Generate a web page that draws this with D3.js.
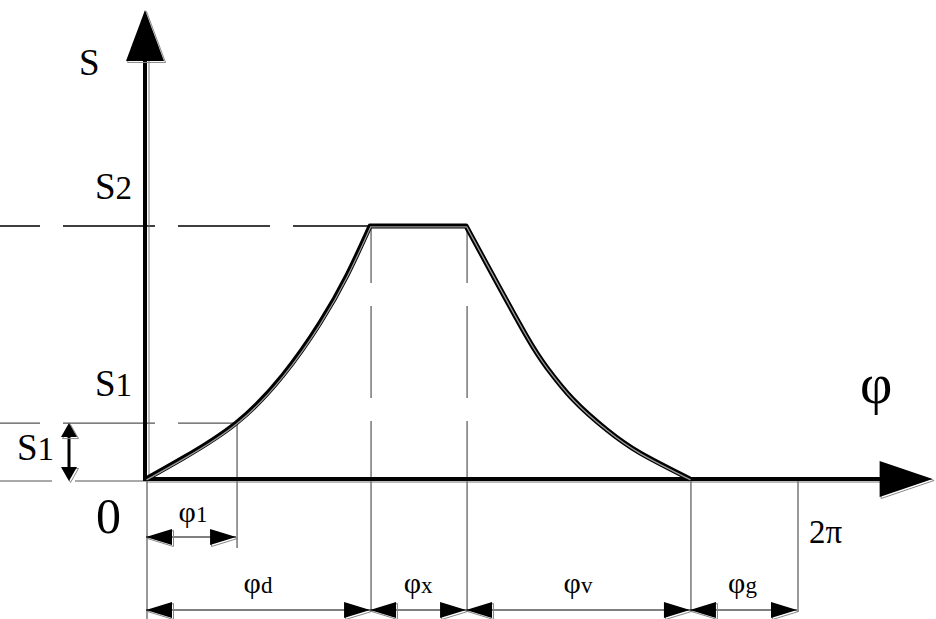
<!DOCTYPE html>
<html>
<head>
<meta charset="utf-8">
<script src="https://cdn.jsdelivr.net/npm/d3@7"></script>
<style>
  html, body { margin: 0; padding: 0; background: #fff; }
  svg { display: block; }
  text { font-family: 'Liberation Serif', 'DejaVu Serif', serif; fill: #000; }
</style>
</head>
<body>
<svg id="chart" width="936" height="619"></svg>
<script>
// ── Data (φ in degrees, S relative to S2) ─────────────
const ascentPhi = [0, 20.5, 49.8, 75.8, 96.2, 111.2, 123.9];
const ascentS = [0, 0.083, 0.221, 0.411, 0.617, 0.806, 1];
const descentPhi = [177, 190.2, 210.7, 221.7, 236.1, 254.9, 273.2, 300.8];
const descentS = [1, 0.826, 0.561, 0.44, 0.315, 0.194, 0.103, 0];
const phaseBounds = [0, 123.9, 177, 300.8, 360];
const phaseSubs = ['d', 'x', 'v', 'g'];
const levelS = [0.221, 1];
const levelLabels = ['1', '2'];
const phi1 = 49.8;
const axisEnd = { phi: 435, s: 1.854 };

// ── Scales ───────────────────────────────────────────
const svg = d3.select('#chart');
const x = d3.scaleLinear().domain([0, 360]).range([146, 797]);
const y = d3.scaleLinear().domain([0, 1]).range([479, 226]);

// arrowhead: tip at (tx,ty), pointing in direction (dx,dy)
function arrowHead(tx, ty, dx, dy, len, half) {
  const bx = tx - dx * len, by = ty - dy * len;
  const px = -dy * half, py = dx * half;
  return `M${tx},${ty}L${bx + px},${by + py}L${bx - px},${by - py}Z`;
}
function drawArrow(tx, ty, dx, dy, len, half) {
  // light shadow edge like the scanned drawing
  svg.append('path')
    .attr('d', arrowHead(tx + 1.5, ty + 1.5, dx, dy, len, half))
    .attr('fill', 'none').attr('stroke', '#888').attr('stroke-width', 1);
  svg.append('path')
    .attr('d', arrowHead(tx, ty, dx, dy, len, half))
    .attr('fill', '#000');
}

// ── Dashed level lines ───────────────────────────────
levelS.forEach(s => {
  svg.append('line')
    .attr('x1', 0).attr('x2', s === 1 ? x(ascentPhi[ascentPhi.length - 1]) : x(phi1))
    .attr('y1', y(s)).attr('y2', y(s))
    .attr('stroke', s === 1 ? '#000' : '#555').attr('stroke-width', 1.3)
    .attr('stroke-dasharray', '92,23').attr('stroke-dashoffset', 52);
});
svg.append('line')
  .attr('x1', 0).attr('x2', x(0)).attr('y1', y(0) + 2).attr('y2', y(0) + 2)
  .attr('stroke', '#555').attr('stroke-width', 1.2)
  .attr('stroke-dasharray', '52,23,92');

// ── Extension lines ──────────────────────────────────
const dimY = 610, dim1Y = 537;
// dashed verticals over the dwell
[phaseBounds[1], phaseBounds[2]].forEach(p => {
  svg.append('line')
    .attr('x1', x(p) + 1).attr('x2', x(p) + 1).attr('y1', y(1)).attr('y2', y(0))
    .attr('stroke', '#555').attr('stroke-width', 1.2)
    .attr('stroke-dasharray', '92,23').attr('stroke-dashoffset', 35);
});
phaseBounds.forEach((p, i) => {
  svg.append('line')
    .attr('x1', x(p) + 1).attr('x2', x(p) + 1)
    .attr('y1', y(0)).attr('y2', i === 0 ? 619 : dimY + 2)
    .attr('stroke', '#555').attr('stroke-width', 1.2);
});
svg.append('line')
  .attr('x1', x(phi1) + 1).attr('x2', x(phi1) + 1)
  .attr('y1', y(levelS[0])).attr('y2', 548)
  .attr('stroke', '#555').attr('stroke-width', 1.2);

// ── Dimension lines ──────────────────────────────────
svg.append('line')
  .attr('x1', x(0)).attr('x2', x(phi1)).attr('y1', dim1Y).attr('y2', dim1Y)
  .attr('stroke', '#000').attr('stroke-width', 1);
drawArrow(x(0), dim1Y, -1, 0, 26, 8);
drawArrow(x(phi1), dim1Y, 1, 0, 26, 8);

svg.append('line')
  .attr('x1', x(0)).attr('x2', x(360)).attr('y1', dimY).attr('y2', dimY)
  .attr('stroke', '#000').attr('stroke-width', 1);
phaseSubs.forEach((sub, i) => {
  const a = phaseBounds[i], b = phaseBounds[i + 1];
  drawArrow(x(a), dimY, -1, 0, 26, 8);
  drawArrow(x(b), dimY, 1, 0, 26, 8);
});

// S1 dimension
svg.append('line')
  .attr('x1', 69).attr('x2', 69).attr('y1', y(levelS[0]) + 12).attr('y2', y(0) - 12)
  .attr('stroke', '#000').attr('stroke-width', 3);
drawArrow(69, y(levelS[0]), 0, -1, 14, 8);
drawArrow(69, y(0) + 2, 0, 1, 14, 8);

// ── Axes ─────────────────────────────────────────────
svg.append('line')
  .attr('x1', x(0) + 3).attr('x2', x(0) + 3).attr('y1', y(axisEnd.s) + 50).attr('y2', y(0))
  .attr('stroke', '#777').attr('stroke-width', 1);
svg.append('line')
  .attr('x1', x(0) - 1).attr('x2', x(0) - 1).attr('y1', y(axisEnd.s) + 50).attr('y2', y(0) + 1)
  .attr('stroke', '#000').attr('stroke-width', 4);
svg.append('line')
  .attr('x1', x(0)).attr('x2', x(axisEnd.phi) - 50).attr('y1', y(0) + 3).attr('y2', y(0) + 3)
  .attr('stroke', '#777').attr('stroke-width', 1);
svg.append('line')
  .attr('x1', x(0) - 3).attr('x2', x(axisEnd.phi) - 50).attr('y1', y(0)).attr('y2', y(0))
  .attr('stroke', '#000').attr('stroke-width', 4);
drawArrow(x(0) - 1, y(axisEnd.s), 0, -1, 51, 19);
drawArrow(x(axisEnd.phi), y(0), 1, 0, 53, 18);

// ── Displacement curve ───────────────────────────────
const line = d3.line().x(d => x(d[0])).y(d => y(d[1])).curve(d3.curveNatural);
const ascent = d3.zip(ascentPhi, ascentS);
const descent = d3.zip(descentPhi, descentS);
const curvePath = line(ascent) + 'L' + line(descent).slice(1);
svg.append('path')
  .attr('d', curvePath)
  .attr('fill', 'none').attr('stroke', '#000').attr('stroke-width', 5)
  .attr('stroke-linejoin', 'round');
svg.append('path')
  .attr('d', curvePath)
  .attr('transform', 'translate(0.6,0.9)')
  .attr('fill', 'none').attr('stroke', '#999').attr('stroke-width', 1.3);

// ── Labels ───────────────────────────────────────────
svg.append('text').attr('x', 79).attr('y', 75).attr('font-size', 37).text('S');
levelS.forEach((s, i) => {
  const t = svg.append('text').attr('x', 95).attr('y', y(s) - 27).attr('font-size', 37);
  t.append('tspan').text('S');
  t.append('tspan').attr('font-size', 33).text(levelLabels[i]);
});
const s1b = svg.append('text').attr('x', 17).attr('y', 460).attr('font-size', 37);
s1b.append('tspan').text('S');
s1b.append('tspan').attr('font-size', 33).text(levelLabels[0]);
svg.append('text').attr('x', 96).attr('y', 533).attr('font-size', 50).text('0');
svg.append('text').attr('x', 860).attr('y', 403).attr('font-size', 56).text('φ');
svg.append('text').attr('x', 809).attr('y', 543).attr('font-size', 33).text('2π');

function phiLabel(cx, by, sub) {
  const t = svg.append('text').attr('x', cx).attr('y', by)
    .attr('text-anchor', 'middle').attr('font-size', 30);
  t.append('tspan').text('φ');
  t.append('tspan').attr('font-size', 23).text(sub);
}
phiLabel((x(0) + x(phi1)) / 2 + 2, 522, '1');
phaseSubs.forEach((sub, i) => {
  const cx = (x(phaseBounds[i]) + x(phaseBounds[i + 1])) / 2;
  phiLabel(sub === 'g' ? cx - 1 : cx, 593, sub);
});
</script>
</body>
</html>
